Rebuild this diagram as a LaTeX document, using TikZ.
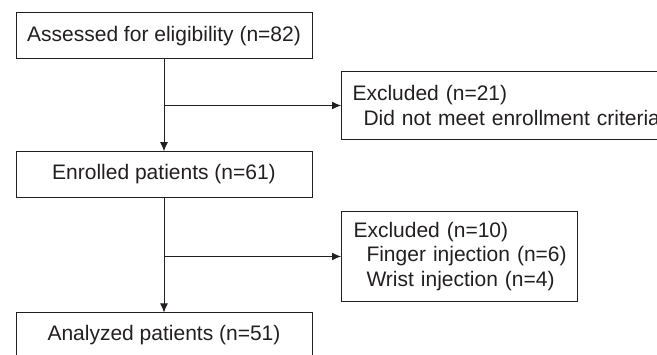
\documentclass[tikz,border=0pt]{standalone}
\usepackage{fontspec}
\setmainfont{Liberation Sans}
\usetikzlibrary{arrows.meta,calc}
\definecolor{ink}{HTML}{231F20}
\begin{document}
\begin{tikzpicture}[x=1pt,y=-1pt,
  every node/.style={font=\fontsize{21}{25}\selectfont, text=ink},
  mainbox/.style={draw=ink, line width=1pt, minimum width=296pt, minimum height=45.5pt, inner sep=0pt, anchor=center},
  exbox/.style={draw=ink, line width=1pt, inner sep=0pt, align=left, anchor=north west,
    font=\fontsize{21}{24.5}\selectfont},
  conn/.style={draw=ink, line width=1pt},
  arr/.style={conn, -{Latex[length=9pt,width=8pt]}}]
\useasboundingbox (0,0) rectangle (657,355);
\clip (0,0) rectangle (657,355);
\node[mainbox] (b1) at (164,35.75) {Assessed for eligibility (n=82)};
\node[mainbox] (b2) at (164,174.5) {Enrolled patients (n=61)};
\node[mainbox, minimum height=45pt] (b3) at (164,335.5) {Analyzed patients (n=51)};
\node[exbox, minimum width=360pt, minimum height=68pt, text width=360pt] (e1) at (341,71)
  {\hspace*{11pt}Excluded (n=21)\\\hspace*{22pt}Did not meet enrollment criteria};
\node[exbox, minimum width=236pt, minimum height=90pt, text width=236pt] (e2) at (341,211)
  {\hspace*{12pt}Excluded (n=10)\\\hspace*{25pt}Finger injection (n=6)\\\hspace*{25pt}Wrist injection (n=4)};
\coordinate (j1) at (b1.south |- e1.west);
\coordinate (j2) at (b2.south |- e2.west);
\draw[arr] (b1.south) -- (b2.north);
\draw[arr] (j1) -- (e1.west);
\draw[arr] (b2.south) -- (b3.north);
\draw[arr] (j2) -- (e2.west);
\end{tikzpicture}
\end{document}
